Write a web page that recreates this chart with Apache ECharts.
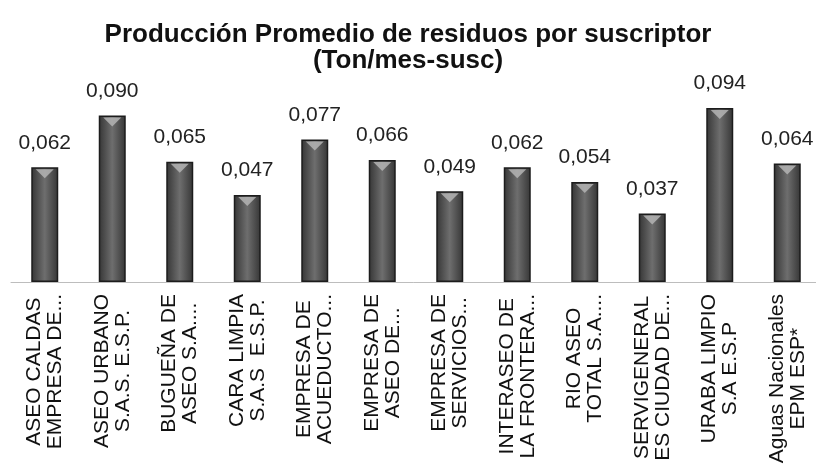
<!DOCTYPE html>
<html>
<head>
<meta charset="utf-8">
<script src="https://cdn.jsdelivr.net/npm/echarts@6/dist/echarts.min.js"></script>
<style>
  html, body { margin: 0; padding: 0; background: #fff; }
  #chart { width: 816px; height: 474px; }
</style>
</head>
<body>
<div id="chart"></div>
<script>
// categorias (empresas)
var empresas = [
  'ASEO CALDAS\nEMPRESA DE...',
  'ASEO URBANO\nS.A.S. E.S.P.',
  'BUGUEÑA DE\nASEO S.A....',
  'CARA LIMPIA\nS.A.S  E.S.P.',
  'EMPRESA DE\nACUEDUCTO...',
  'EMPRESA DE\nASEO DE...',
  'EMPRESA DE\nSERVICIOS...',
  'INTERASEO DE\nLA FRONTERA...',
  'RIO ASEO\nTOTAL S.A....',
  'SERVIGENERAL\nES CIUDAD DE...',
  'URABA LIMPIO\nS.A E.S.P',
  'Aguas Nacionales\nEPM ESP*'
];
// produccion promedio (Ton/mes-susc)
var produccion = [0.062, 0.090, 0.065, 0.047, 0.077, 0.066, 0.049, 0.062, 0.054, 0.037, 0.094, 0.064];

var fuente = '"Liberation Sans", Arial, sans-serif';

var chart = echarts.init(document.getElementById('chart'));

var option = {
  backgroundColor: '#fff',
  animation: false,
  title: {
    text: 'Producción Promedio de residuos por suscriptor\n(Ton/mes-susc)',
    left: 'center',
    top: 17,
    textStyle: {
      fontFamily: fuente,
      fontWeight: 'bold',
      fontSize: 26,
      lineHeight: 26,
      color: '#111'
    }
  },
  grid: {
    left: 11,
    right: -5,
    top: 97,
    bottom: 192,
    containLabel: false,
    outerBoundsMode: 'none'
  },
  xAxis: {
    type: 'category',
    data: empresas,
    axisTick: { show: false },
    axisLine: { lineStyle: { color: '#bdbdbd', width: 1 } },
    axisLabel: {
      interval: 0,
      rotate: 90,
      margin: 12,
      color: '#111',
      fontFamily: fuente,
      fontSize: 21,
      lineHeight: 21,
      formatter: function (v) {
        // cada linea centrada dentro del bloque
        return v.split('\n').map(function (l) { return '{c|' + l + '}'; }).join('\n');
      },
      rich: {
        c: { align: 'center', fontFamily: fuente, fontSize: 21, lineHeight: 21, color: '#111' }
      }
    }
  },
  yAxis: {
    type: 'value',
    min: 0,
    max: 0.1,
    show: false,
    splitLine: { show: false }
  },
  series: [{
    type: 'bar',
    data: produccion,
    barWidth: 27,
    itemStyle: {
      borderColor: '#1c1c1c',
      borderWidth: 1.5,
      color: {
        type: 'linear', x: 0, y: 0, x2: 1, y2: 0,
        colorStops: [
          { offset: 0, color: '#353535' },
          { offset: 0.5, color: '#6e6e6e' },
          { offset: 1, color: '#353535' }
        ]
      }
    },
    label: {
      show: true,
      position: 'top',
      distance: 14,
      color: '#222',
      fontFamily: fuente,
      fontSize: 21,
      formatter: function (p) { return p.value.toFixed(3).replace('.', ','); }
    }
  }, {
    // brillo en la parte superior de cada barra
    type: 'pictorialBar',
    data: produccion,
    symbol: 'triangle',
    symbolRotate: 180,
    symbolSize: [18, 9],
    symbolPosition: 'end',
    symbolOffset: [0, 2],
    barGap: '-100%',
    itemStyle: { color: '#b4b4b4', opacity: 0.85 },
    silent: true,
    z: 3
  }]
};

chart.setOption(option);
</script>
</body>
</html>
